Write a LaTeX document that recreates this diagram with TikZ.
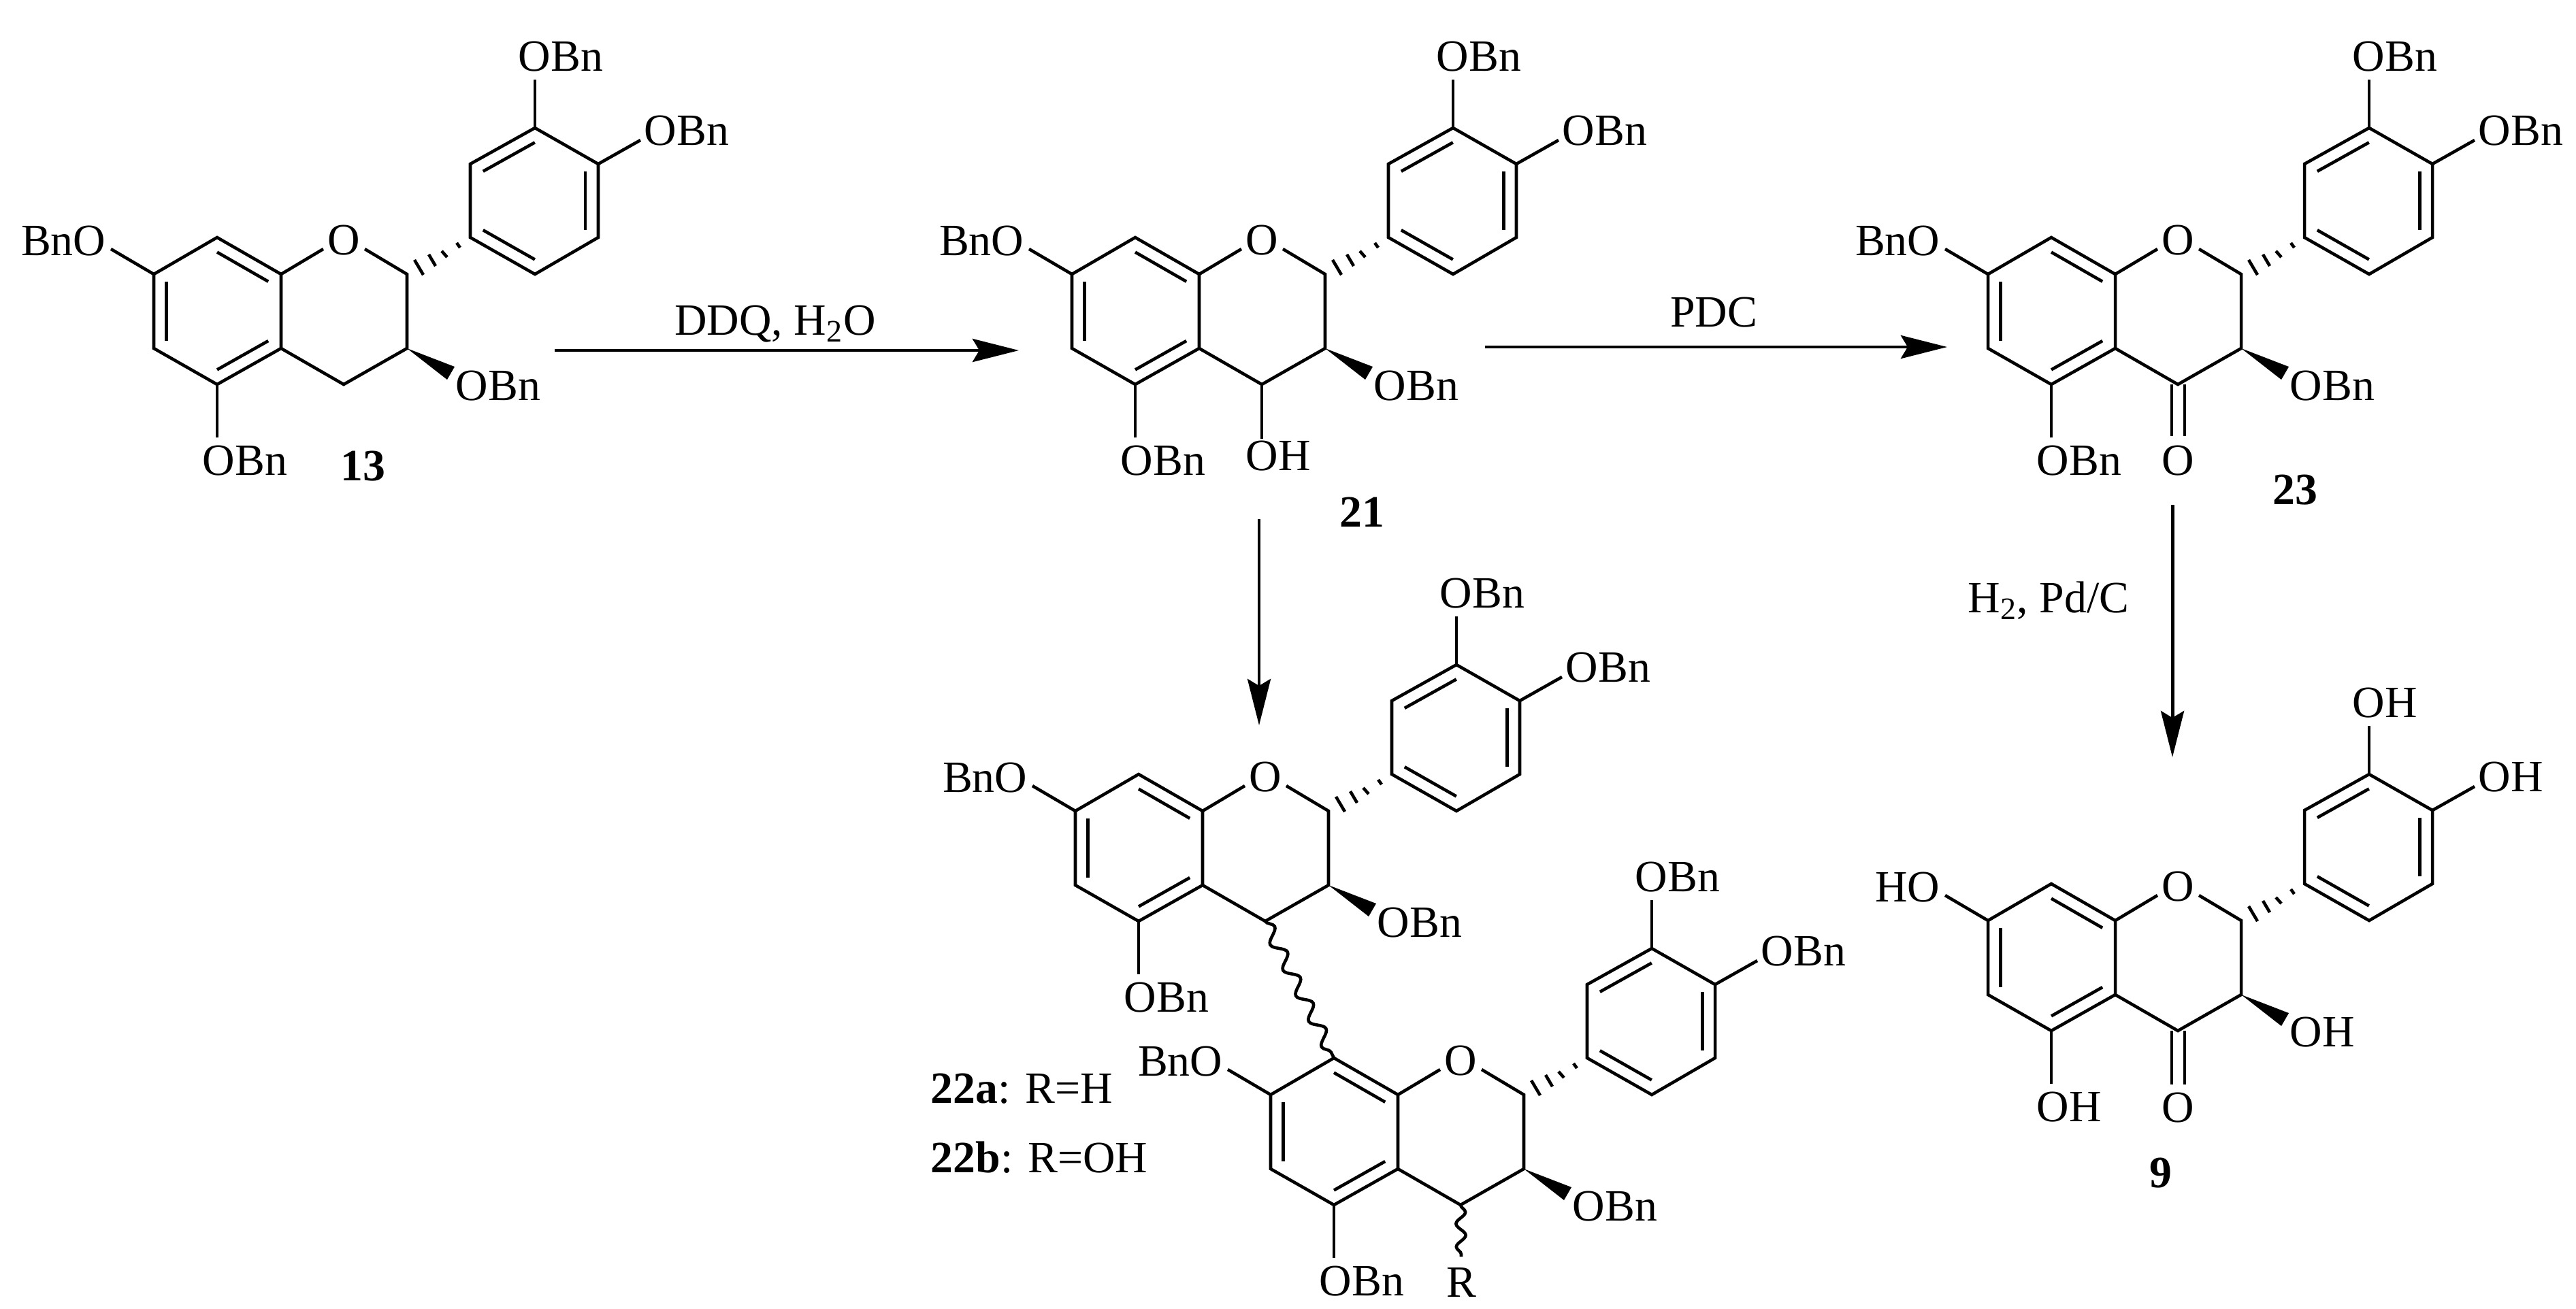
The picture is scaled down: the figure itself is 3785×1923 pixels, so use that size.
\documentclass[tikz,border=0pt]{standalone}
\usepackage{fontspec}
\setmainfont{Liberation Serif}
\usetikzlibrary{calc,arrows.meta,decorations.pathmorphing}
\tikzset{
	atom/.style={inner sep=0pt,font=\fontsize{18.7}{20}\selectfont},
	bond/.style={line width=1.3pt},
	rxn/.style={line width=1.4pt,-{Stealth[length=0.68cm,width=0.34cm,inset=0.1cm]}},
	wavy/.style={line width=1.3pt,decorate,decoration={snake,segment length=0.42cm,amplitude=0.09cm}},
}
% prefix, x, y, text at position 7, text of the other oxygens
\newcommand{\flavan}[5]{
	\begin{scope}[shift={(#2,#3)}]
		\coordinate (#1c8a) at (0,0);
		\coordinate (#1c8) at (-94,-54);
		\coordinate (#1c7) at (-187,0);
		\coordinate (#1c6) at (-187,109);
		\coordinate (#1c5) at (-94,162);
		\coordinate (#1c4a) at (0,109);
		\coordinate (#1c4) at (92,162);
		\coordinate (#1c3) at (185,109);
		\coordinate (#1c2) at (185,0);
		\coordinate (#1b1) at (278,-54);
		\coordinate (#1b2) at (278,-162);
		\coordinate (#1b3) at (373,-215);
		\coordinate (#1b4) at (466,-162);
		\coordinate (#1b5) at (466,-54);
		\coordinate (#1b6) at (373,0);
		\coordinate (#1actr) at (-94,54);
		\coordinate (#1bctr) at (372,-108);
		%
		\node[atom] (#1o) at (92,-50) {O};
		\node[atom,anchor=west] (#1obtop) at (348,-320) {#5};
		\node[atom,anchor=west] (#1obright) at (533,-211) {#5};
		\node[atom,anchor=east] (#1ob7) at (-257,-49) {#4};
		\node[atom,anchor=west] (#1ob3) at (256,164) {#5};
		\node[atom,anchor=west] (#1ob5) at (-116,274) {#5};
		%
		\coordinate (#1ol) at (62,-37);
		\coordinate (#1or) at (123,-37);
		\coordinate (#1e3) at (373,-286);
		\coordinate (#1e4) at (528,-197);
		\coordinate (#1e7) at (-250,-37);
		\coordinate (#1e5) at (-94,240);
		\coordinate (#1w1) at (255,136);
		\coordinate (#1w2) at (244,155);
		%
		\draw[bond] (#1c8a) -- (#1c8) -- (#1c7) -- (#1c6) -- (#1c5) -- (#1c4a) -- cycle;
		\draw[bond] (#1ol) -- (#1c8a);
		\draw[bond] (#1or) -- (#1c2) -- (#1c3) -- (#1c4) -- (#1c4a);
		\draw[bond] (#1b1) -- (#1b2) -- (#1b3) -- (#1b4) -- (#1b5) -- (#1b6) -- cycle;
		\draw[bond] (#1b3) -- (#1e3);
		\draw[bond] (#1b4) -- (#1e4);
		\draw[bond] (#1c7) -- (#1e7);
		\draw[bond] (#1c5) -- (#1e5);
		\fill (#1c3) -- (#1w1) -- (#1w2) -- cycle;
		%
		\draw[bond] ($(#1c8)!.2!(#1actr)$) -- ($(#1c8a)!.2!(#1actr)$);
		\draw[bond] ($(#1c7)!.2!(#1actr)$) -- ($(#1c6)!.2!(#1actr)$);
		\draw[bond] ($(#1c5)!.2!(#1actr)$) -- ($(#1c4a)!.2!(#1actr)$);
		\draw[bond] ($(#1b2)!.2!(#1bctr)$) -- ($(#1b3)!.2!(#1bctr)$);
		\draw[bond] ($(#1b4)!.2!(#1bctr)$) -- ($(#1b5)!.2!(#1bctr)$);
		\draw[bond] ($(#1b6)!.2!(#1bctr)$) -- ($(#1b1)!.2!(#1bctr)$);
		%
		\foreach \xa/\ya/\xb/\yb in {196/-21/209/1,217/-29/227/-12,236/-34/244/-25,258/-46/263/-39}
			\draw[bond] (\xa,\ya) -- (\xb,\yb);
	\end{scope}
}
\begin{document}
\begin{tikzpicture}[x=0.01cm,y=-0.01cm]
	\useasboundingbox (0,0) rectangle (3785,1923);
	\flavan{ca}{413}{403}{BnO}{OBn}
	\flavan{al}{1762}{403}{BnO}{OBn}
	\flavan{ke}{3108}{403}{BnO}{OBn}
	\flavan{tx}{3108}{1353}{HO}{OH}
	\flavan{up}{1767}{1192}{BnO}{OBn}
	\flavan{lo}{2054}{1609}{BnO}{OBn}
	%
	\node[atom] (oh) at (1878,670) {OH};
	\coordinate (ohb) at (1854,645);
	\draw[bond] (alc4) -- (ohb);
	%
	\node[atom] (keo) at (3200,677) {O};
	\coordinate (keol) at (3191,641);
	\coordinate (keor) at (3210,641);
	\coordinate (kel) at (3191,565);
	\coordinate (ker) at (3210,565);
	\draw[bond] (kel) -- (keol);
	\draw[bond] (ker) -- (keor);
	%
	\node[atom] (txo) at (3200,1628) {O};
	\coordinate (txol) at (3191,1594);
	\coordinate (txor) at (3210,1594);
	\coordinate (txl) at (3191,1515);
	\coordinate (txr) at (3210,1515);
	\draw[bond] (txl) -- (txol);
	\draw[bond] (txr) -- (txor);
	%
	\draw[wavy] (upc4) -- (loc8);
	\node[atom] (rgroup) at (2147,1885) {R};
	\coordinate (rb) at (2147,1847);
	\draw[wavy,decoration={segment length=0.34cm,amplitude=0.07cm}] (loc4) -- (rb);
	%
	\node[atom,font=\fontsize{18.7}{20}\selectfont\bfseries] (n13) at (533,685) {13};
	\node[atom,font=\fontsize{18.7}{20}\selectfont\bfseries] (n21) at (2001,753) {21};
	\node[atom,font=\fontsize{18.7}{20}\selectfont\bfseries] (n23) at (3372,720) {23};
	\node[atom,font=\fontsize{18.7}{20}\selectfont\bfseries] (n9) at (3175,1724) {9};
	\node[atom,anchor=west] (n22a) at (1367,1600) {\textbf{22a}: R=H};
	\node[atom,anchor=west] (n22b) at (1367,1701) {\textbf{22b}: R=OH};
	%
	\coordinate (a1s) at (815,515);
	\coordinate (a1e) at (1497,515);
	\coordinate (a2s) at (2182,510);
	\coordinate (a2e) at (2861,510);
	\coordinate (a3s) at (1850,763);
	\coordinate (a3e) at (1850,1066);
	\coordinate (a4s) at (3192,742);
	\coordinate (a4e) at (3192,1113);
	\draw[rxn] (a1s) -- (a1e);
	\draw[rxn] (a2s) -- (a2e);
	\draw[rxn] (a3s) -- (a3e);
	\draw[rxn] (a4s) -- (a4e);
	\node[atom] (ddq) at (1139,476) {DDQ, H\textsubscript{2}O};
	\node[atom] (pdc) at (2518,459) {PDC};
	\node[atom] (pdcat) at (3010,883) {H\textsubscript{2}, Pd/C};
\end{tikzpicture}
\end{document}
